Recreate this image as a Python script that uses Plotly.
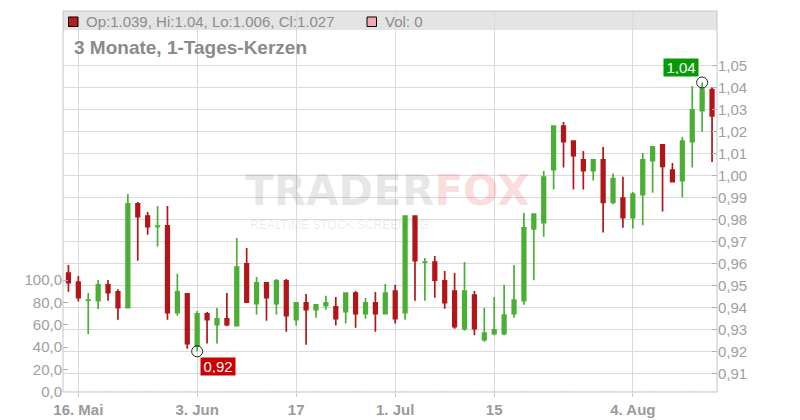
import plotly.graph_objects as go

# ---------------- data ----------------
dates = [
    "2025-05-15", "2025-05-16", "2025-05-19", "2025-05-20", "2025-05-21", "2025-05-22", "2025-05-23",
    "2025-05-26", "2025-05-27", "2025-05-28", "2025-05-29", "2025-05-30",
    "2025-06-02", "2025-06-03", "2025-06-04", "2025-06-05", "2025-06-06",
    "2025-06-09", "2025-06-10", "2025-06-11", "2025-06-12", "2025-06-13",
    "2025-06-16", "2025-06-17", "2025-06-18", "2025-06-19", "2025-06-20",
    "2025-06-23", "2025-06-24", "2025-06-25", "2025-06-26", "2025-06-27",
    "2025-06-30", "2025-07-01", "2025-07-02", "2025-07-03", "2025-07-04",
    "2025-07-07", "2025-07-08", "2025-07-09", "2025-07-10", "2025-07-11",
    "2025-07-14", "2025-07-15", "2025-07-16", "2025-07-17", "2025-07-18",
    "2025-07-21", "2025-07-22", "2025-07-23", "2025-07-24", "2025-07-25",
    "2025-07-28", "2025-07-29", "2025-07-30", "2025-07-31", "2025-08-01",
    "2025-08-04", "2025-08-05", "2025-08-06", "2025-08-07", "2025-08-08",
    "2025-08-11", "2025-08-12", "2025-08-13", "2025-08-14",
]

opens = [0.9556, 0.9515, 0.9432, 0.9430, 0.9502, 0.9470, 0.9398, 0.9870, 0.9815, 0.9768,
         0.9770, 0.9376, 0.9461, 0.9223, 0.9370, 0.9321, 0.9347, 0.9317, 0.9597, 0.9417,
         0.9511, 0.9417, 0.9520, 0.9344, 0.9420, 0.9389, 0.9408, 0.9402, 0.9380, 0.9465,
         0.9371, 0.9420, 0.9371, 0.9474, 0.9376, 0.9815, 0.9605, 0.9605, 0.9520, 0.9474,
         0.9303, 0.9456, 0.9253, 0.9280, 0.9280, 0.9371, 0.9430, 0.9756, 0.9785, 1.0026,
         1.0224, 1.0156, 1.0070, 1.0021, 1.0070, 0.9877, 0.9897, 0.9808, 0.9912, 1.0067,
         1.0138, 1.0024, 0.9976, 1.0153, 1.0294, 1.039]
highs = [0.9592, 0.9542, 0.9465, 0.9524, 0.9524, 0.9482, 0.9915, 0.9879, 0.9833, 0.9861,
         0.9861, 0.9552, 0.9461, 0.9383, 0.9379, 0.9397, 0.9465, 0.9715, 0.9670, 0.9538,
         0.9511, 0.9529, 0.9529, 0.9420, 0.9461, 0.9411, 0.9452, 0.9447, 0.9465, 0.9474,
         0.9442, 0.9470, 0.9506, 0.9502, 0.9815, 0.9815, 0.9624, 0.9633, 0.9565, 0.9556,
         0.9606, 0.9474, 0.9397, 0.9447, 0.9502, 0.9592, 0.9829, 0.9824, 1.0020, 1.0224,
         1.0242, 1.0156, 1.0111, 1.0070, 1.0129, 1.0008, 0.9994, 0.9924, 1.0102, 1.0129,
         1.0138, 1.0056, 1.0174, 1.0406, 1.0422, 1.04]
lows = [0.9471, 0.9426, 0.9279, 0.9392, 0.9430, 0.9344, 0.9397, 0.9612, 0.9730, 0.9676,
        0.9344, 0.9362, 0.9212, 0.9200, 0.9235, 0.9235, 0.9314, 0.9317, 0.9420, 0.9367,
        0.9339, 0.9367, 0.9289, 0.9317, 0.9230, 0.9353, 0.9389, 0.9317, 0.9326, 0.9307,
        0.9348, 0.9289, 0.9367, 0.9326, 0.9344, 0.9430, 0.9430, 0.9444, 0.9394, 0.9303,
        0.9294, 0.9273, 0.9244, 0.9273, 0.9273, 0.9353, 0.9412, 0.9523, 0.9721, 0.9935,
        1.0035, 0.9935, 0.9935, 0.9976, 0.9740, 0.9868, 0.9762, 0.9758, 0.9773, 0.9921,
        0.9835, 0.9967, 0.9899, 1.0035, 1.0198, 1.006]
closes = [0.9512, 0.9444, 0.9433, 0.9502, 0.9467, 0.9398, 0.9870, 0.9812, 0.9767, 0.9769,
          0.9376, 0.9470, 0.9235, 0.9370, 0.9344, 0.9347, 0.9321, 0.9583, 0.9423, 0.9511,
          0.9444, 0.9520, 0.9362, 0.9420, 0.9389, 0.9411, 0.9420, 0.9348, 0.9465, 0.9371,
          0.9420, 0.9371, 0.9465, 0.9348, 0.9815, 0.9612, 0.9606, 0.9523, 0.9421, 0.9312,
          0.9474, 0.9303, 0.9283, 0.9297, 0.9365, 0.9433, 0.9761, 0.9824, 0.9992, 1.0224,
          1.0153, 1.0089, 1.0021, 1.0070, 0.9877, 0.9985, 0.9808, 0.9915, 1.0070, 1.0129,
          1.0040, 0.9971, 1.0156, 1.0297, 1.0392, 1.027]
volumes = [0] * len(dates)

tick_dates = ["2025-05-16", "2025-06-03", "2025-06-17", "2025-07-01", "2025-07-15", "2025-08-04"]
tick_labels = ["16. Mai", "3. Jun", "17", "1. Jul", "15", "4. Aug"]
price_ticks = [0.91, 0.92, 0.93, 0.94, 0.95, 0.96, 0.97, 0.98, 0.99, 1.00, 1.01, 1.02, 1.03, 1.04, 1.05]
volume_ticks = [0, 20, 40, 60, 80, 100]

title_text = "3 Monate, 1-Tages-Kerzen"

# ---------------- layout helpers ----------------
W, H = 800, 420
ML, MR, MT, MB = 63, 83, 11, 28
PW, PH = W - ML - MR, H - MT - MB


def px(x):
    return (x - ML) / PW


def py(y):
    return (H - MB - y) / PH


GREEN = "#4baf35"
RED = "#b21618"
GRID = "#dadada"
FONT = "Liberation Sans, Arial, sans-serif"

fig = go.Figure()

fig.add_trace(go.Bar(x=dates, y=volumes, yaxis="y2", marker_color="#f0a9b1",
                     hoverinfo="skip"))

fig.add_trace(go.Candlestick(
    x=dates, open=opens, high=highs, low=lows, close=closes,
    increasing=dict(line=dict(color=GREEN, width=1.7), fillcolor=GREEN),
    decreasing=dict(line=dict(color=RED, width=1.7), fillcolor=RED),
    hoverinfo="skip",
))

imin = min(range(len(lows)), key=lambda i: lows[i])
imax = max(range(len(highs)), key=lambda i: highs[i])

fig.add_trace(go.Scatter(
    x=[dates[imin], dates[imax]], y=[lows[imin], highs[imax]], mode="markers",
    marker=dict(symbol="circle-open", size=11, color="#222222", line=dict(width=1)),
    hoverinfo="skip",
))


def fmt(v):
    return f"{v:.2f}".replace(".", ",")


annotations = [
    dict(x=dates[imin], y=lows[imin], xref="x", yref="y", text=fmt(lows[imin]),
         showarrow=False, xanchor="left", yanchor="top", xshift=3, yshift=-6,
         bgcolor="#cc0000", font=dict(color="white", size=15, family=FONT),
         width=30, height=13, borderpad=2),
    dict(x=dates[imax], y=highs[imax], xref="x", yref="y", text=fmt(highs[imax]),
         showarrow=False, xanchor="right", yanchor="bottom", xshift=-3, yshift=5,
         bgcolor="#079a07", font=dict(color="white", size=15, family=FONT),
         width=30, height=13, borderpad=2),
    dict(x=px(72), y=py(47.5), xref="paper", yref="paper", text=f"<b>{title_text}</b>",
         showarrow=False, xanchor="left", yanchor="middle",
         font=dict(size=19, color="#8a8a8a", family=FONT)),
    dict(x=px(84), y=py(21), xref="paper", yref="paper",
         text=f"Op:{opens[-1]:g}, Hi:{highs[-1]:g}, Lo:{lows[-1]:g}, Cl:{closes[-1]:g}",
         showarrow=False, xanchor="left", yanchor="middle",
         font=dict(size=15, color="#8c8c8c", family=FONT)),
    dict(x=px(383), y=py(21), xref="paper", yref="paper", text=f"Vol: {volumes[-1]}",
         showarrow=False, xanchor="left", yanchor="middle",
         font=dict(size=15, color="#8c8c8c", family=FONT)),
    dict(x=px(387), y=py(190), xref="paper", yref="paper",
         text="<b><span style='color:rgba(0,0,0,0.1)'>TRADER</span>"
              "<span style='color:rgba(235,40,50,0.17)'>FOX</span></b>",
         showarrow=False, xanchor="center", yanchor="middle",
         font=dict(size=42, family="DejaVu Sans")),
    dict(x=px(338.5), y=py(225), xref="paper", yref="paper",
         text="REALTIME STOCK SCREENING",
         showarrow=False, xanchor="center", yanchor="middle",
         font=dict(size=12, color="rgba(0,0,0,0.09)", family=FONT)),
]

shapes = [
    dict(type="rect", xref="paper", yref="paper", x0=0, x1=1, y0=py(30), y1=1,
         fillcolor="#e4e4e4", line=dict(width=0), layer="below"),
    dict(type="rect", xref="paper", yref="paper", x0=0, x1=1, y0=0, y1=1,
         fillcolor="rgba(0,0,0,0)", line=dict(color="#c4c4c4", width=1), layer="above"),
    dict(type="rect", xref="paper", yref="paper", x0=px(68.5), x1=px(78), y0=py(26.5), y1=py(17),
         fillcolor="#b71c1c", line=dict(color="black", width=1), layer="above"),
    dict(type="rect", xref="paper", yref="paper", x0=px(367), x1=px(376.5), y0=py(26.5), y1=py(17),
         fillcolor="#f0a9b1", line=dict(color="black", width=1), layer="above"),
]

fig.update_layout(
    width=W, height=H,
    margin=dict(l=ML, r=MR, t=MT, b=MB, autoexpand=False),
    paper_bgcolor="white", plot_bgcolor="white",
    showlegend=False, hovermode=False,
    separators=",.",
    boxgap=0.49,
    font=dict(family=FONT),
    annotations=annotations,
    shapes=shapes,
    xaxis=dict(
        type="category", categoryorder="array", categoryarray=dates,
        range=[-0.55, len(dates) - 0.5],
        tickmode="array", tickvals=tick_dates, ticktext=tick_labels,
        showgrid=True, gridcolor=GRID, gridwidth=1,
        ticks="outside", ticklen=4, tickcolor="#c8c8c8",
        tickfont=dict(size=15, color="#9a9a9a", family=FONT, weight="bold"),
        showline=False, zeroline=False, automargin=False,
        rangeslider=dict(visible=False), fixedrange=True,
    ),
    yaxis=dict(
        side="right", range=[0.9015, 1.0747],
        tickmode="array", tickvals=price_ticks, tickformat=".2f",
        ticks="inside", ticklen=5, tickcolor="#b0b0b0",
        tickfont=dict(size=15, color="#a0a0a0", family=FONT),
        showgrid=True, gridcolor=GRID, gridwidth=1, automargin=False,
        showline=False, zeroline=False, fixedrange=True,
    ),
    yaxis2=dict(
        overlaying="y", side="left", range=[0, 340.2],
        tickmode="array", tickvals=volume_ticks, tickformat=".1f",
        ticks="inside", ticklen=5, tickcolor="#b0b0b0",
        tickfont=dict(size=15, color="#a0a0a0", family=FONT), automargin=False,
        showgrid=False, showline=False, zeroline=False, fixedrange=True,
    ),
)

fig.write_html(
    "out.html",
    config={"displayModeBar": False},
    post_script="document.body.style.margin='0px';document.body.style.padding='0px';"
                "document.documentElement.style.overflow='hidden';",
)
